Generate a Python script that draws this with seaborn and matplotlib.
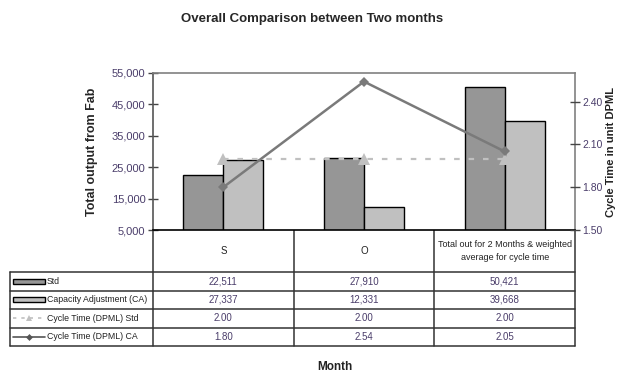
import numpy as np
import pandas as pd
import matplotlib
matplotlib.use("Agg")
import matplotlib.pyplot as plt
from matplotlib.patches import Rectangle
from matplotlib.lines import Line2D
import seaborn as sns

# ---- data ----
categories = ["S", "O", "Total out for 2 Months & weighted\naverage for cycle time"]
std_output = [22511, 27910, 50421]
ca_output = [27337, 12331, 39668]
cycle_std = [2.00, 2.00, 2.00]
cycle_ca = [1.80, 2.54, 2.05]
series_names = ["Std", "Capacity Adjustment (CA)",
                "Cycle Time (DPML) Std", "Cycle Time (DPML) CA"]
left_ticks = [5000, 15000, 25000, 35000, 45000, 55000]
right_ticks = [1.50, 1.80, 2.10, 2.40]

sns.set_theme(style="white")
NARROW = ["Liberation Sans Narrow", "Liberation Sans", "DejaVu Sans"]
plt.rcParams["font.family"] = NARROW

W, H = 618, 376
fig = plt.figure(figsize=(W / 100, H / 100), dpi=100)
fig.patch.set_facecolor("white")

# plot area in pixel coordinates
L, R, T, B = 153, 575, 73, 230
ax = fig.add_axes([L / W, 1 - B / H, (R - L) / W, (B - T) / H])

bar_colors = ["#969696", "#c0c0c0"]
tick_color = "#4a3d6a"

df = pd.DataFrame({
    "pos": list(range(len(categories))) * 2,
    "value": std_output + ca_output,
    "series": [series_names[0]] * len(categories) + [series_names[1]] * len(categories),
})
sns.barplot(data=df, x="pos", y="value", hue="series", palette=bar_colors,
            width=0.57, edgecolor="black", linewidth=1.0, saturation=1,
            legend=False, ax=ax)
ax.set_xlim(-0.5, len(categories) - 0.5)
ax.set_ylim(5000, 55000)
ax.set_yticks(left_ticks)
ax.set_yticklabels([f"{v:,}" for v in left_ticks], color=tick_color, fontsize=8)
ax.set_xticks([])
ax.set_xlabel("")
ax.set_ylabel("Total output from Fab", fontsize=9, fontweight="bold",
              family=["Liberation Sans", "DejaVu Sans"], labelpad=10)
ax.tick_params(axis="y", direction="inout", length=7, width=1, color="#444444",
               left=True, pad=2)
for side in ["top", "right"]:
    ax.spines[side].set_color("#808080")
ax.spines["left"].set_color("#555555")
ax.spines["bottom"].set_color("black")
for s in ax.spines.values():
    s.set_linewidth(1.2)

# cycle time on the secondary axis
ax2 = ax.twinx()
pos = np.arange(len(categories))
sns.lineplot(x=pos, y=cycle_std, ax=ax2, color="#c0c0c0", linewidth=1.6,
             marker="^", markersize=8, markeredgewidth=0, dashes=False)
ax2.lines[-1].set_linestyle((0, (2.5, 4)))
sns.lineplot(x=pos, y=cycle_ca, ax=ax2, color="#7a7a7a", linewidth=1.8,
             marker="D", markersize=5.5, markeredgewidth=0)
ax2.set_xlim(-0.5, len(categories) - 0.5)
ax2.set_ylim(1.50, 2.60)
ax2.set_yticks(right_ticks)
ax2.set_yticklabels([f"{v:.2f}" for v in right_ticks], color=tick_color, fontsize=7.5)
ax2.tick_params(axis="y", direction="inout", length=7, width=1, color="#444444",
                right=True, pad=1.5)
ax2.set_ylabel("")
for s in ax2.spines.values():
    s.set_visible(False)

# axis titles placed in figure space
fig.text(611 / W, 1 - 152 / H, "Cycle Time in unit DPML", rotation=90,
         ha="center", va="center", fontsize=8, fontweight="bold",
         family=["Liberation Sans", "DejaVu Sans"], color="#222222")
fig.text(312 / W, 1 - 19 / H, "Overall Comparison between Two months",
         ha="center", va="center", fontsize=9.5, fontweight="bold")
fig.text(335 / W, 1 - 367 / H, "Month", ha="center", va="center",
         fontsize=8.5, fontweight="bold", color="#222222")

# ---- data table below the plot ----
tb = fig.add_axes([0, 0, 1, 1], zorder=-1)
tb.set_xlim(0, W)
tb.set_ylim(H, 0)
tb.axis("off")

col_x = [L + (R - L) * i / len(categories) for i in range(len(categories) + 1)]
head_bot = 272
row_h = 18.5
rows_y = [head_bot + row_h * i for i in range(len(series_names) + 1)]
line_kw = dict(color="#333333", linewidth=1.1)

for x in col_x:
    tb.plot([x, x], [B, rows_y[-1]], **line_kw)
for y in rows_y:
    tb.plot([10, R], [y, y], **line_kw)
tb.plot([10, 10], [head_bot, rows_y[-1]], **line_kw)

for i, cat in enumerate(categories):
    cx = (col_x[i] + col_x[i + 1]) / 2
    tb.text(cx, (B + head_bot) / 2, cat, ha="center", va="center",
            fontsize=7 if "\n" not in cat else 6.5, color="#222222",
            linespacing=1.6)

row_values = [
    [f"{v:,}" for v in std_output],
    [f"{v:,}" for v in ca_output],
    [f"{v:.2f}" for v in cycle_std],
    [f"{v:.2f}" for v in cycle_ca],
]
for r, vals in enumerate(row_values):
    cy = (rows_y[r] + rows_y[r + 1]) / 2
    for i, txt in enumerate(vals):
        cx = (col_x[i] + col_x[i + 1]) / 2
        tb.text(cx, cy, txt, ha="center", va="center", fontsize=7, color=tick_color)
    tb.text(47, cy, series_names[r], ha="left", va="center", fontsize=6.3,
            color="#222222")

# legend keys in the first column
for r in range(2):
    cy = (rows_y[r] + rows_y[r + 1]) / 2
    tb.add_patch(Rectangle((13, cy - 2.5), 32, 5, facecolor=bar_colors[r],
                           edgecolor="black", linewidth=1.0))
cy = (rows_y[2] + rows_y[3]) / 2
tb.add_line(Line2D([13, 45], [cy, cy], color="#c0c0c0", linewidth=1.2,
                   linestyle=(0, (2, 3))))
tb.plot([29], [cy], marker="^", color="#c0c0c0", markersize=5, markeredgewidth=0)
cy = (rows_y[3] + rows_y[4]) / 2
tb.add_line(Line2D([13, 45], [cy, cy], color="#555555", linewidth=1.2))
tb.plot([29], [cy], marker="D", color="#555555", markersize=3.5, markeredgewidth=0)

fig.savefig("out.png", dpi=100)
